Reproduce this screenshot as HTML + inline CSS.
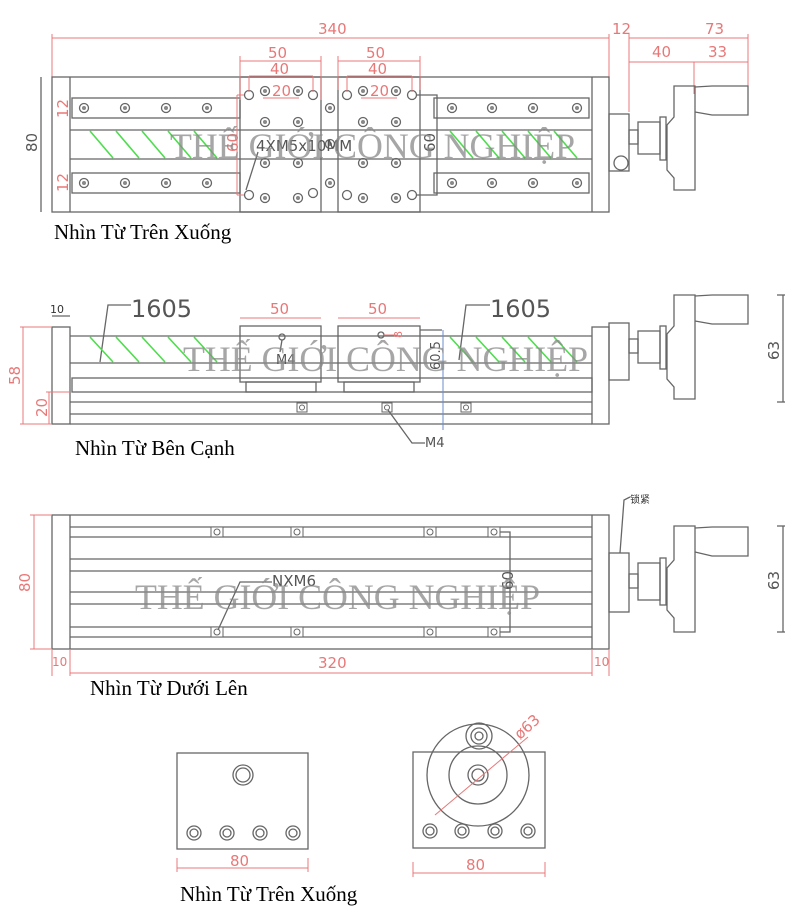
<!DOCTYPE html>
<html><head><meta charset="utf-8"><style>
html,body{margin:0;padding:0;background:#fff;}
svg{display:block;}
.g{stroke:#666;stroke-width:1.3;fill:none;}
.r{stroke:#e87878;stroke-width:1;fill:none;}
.gr{stroke:#4ddd4d;stroke-width:1.6;}
.rt{fill:#e87878;font-family:"DejaVu Sans",sans-serif;font-size:15px;}
.dt{fill:#555;font-family:"DejaVu Sans",sans-serif;font-size:15px;}
.lab{fill:#000;font-family:"Liberation Serif",serif;font-size:21px;}
.wm{fill:#888;fill-opacity:.75;font-family:"Liberation Serif",serif;font-size:36px;}
</style></head><body>
<svg width="800" height="917" viewBox="0 0 800 917" xmlns="http://www.w3.org/2000/svg">
<defs>
<g id="bolt"><circle r="4.5" class="g" fill="#eee"/><circle r="2" fill="#888"/></g>
<g id="motor">
<rect x="609" y="-28" width="20" height="57" class="g"/>
<rect x="629" y="-12" width="9" height="14" class="g"/>
<rect x="638" y="-20" width="22" height="32" class="g"/>
<rect x="660" y="-25" width="6" height="43" class="g"/>
<path d="M674,-56 L695,-56 L695,48 L674,48 L674,36 L667,28 L667,-17 L674,-25 Z" class="g"/>
<path d="M695,-55 L712,-56 L748,-56 L748,-27 L712,-27 L695,-30" class="g"/>
</g>
</defs>

<!-- ===== TOP VIEW ===== -->
<line x1="52" y1="38" x2="609" y2="38" class="r"/>
<line x1="52" y1="34" x2="52" y2="78" class="r"/>
<line x1="609" y1="34" x2="609" y2="78" class="r"/>
<line x1="629" y1="34" x2="629" y2="112" class="r"/>
<line x1="629" y1="38" x2="748" y2="38" class="r"/>
<line x1="629" y1="62" x2="748" y2="62" class="r"/>
<line x1="694" y1="62" x2="694" y2="94" class="r"/>
<line x1="748" y1="34" x2="748" y2="94" class="r"/>
<text x="318" y="34" class="rt">340</text>
<text x="612" y="34" class="rt">12</text>
<text x="705" y="34" class="rt">73</text>
<text x="652" y="57" class="rt">40</text>
<text x="708" y="57" class="rt">33</text>

<line x1="41" y1="77" x2="41" y2="212" class="g"/>
<text x="0" y="0" class="dt" transform="translate(37,152) rotate(-90)">80</text>

<rect x="52" y="77" width="557" height="135" class="g"/>
<line x1="70" y1="77" x2="70" y2="212" class="g"/>
<line x1="592" y1="77" x2="592" y2="212" class="g"/>
<rect x="72" y="98" width="168" height="20" class="g"/>
<rect x="72" y="173" width="168" height="20" class="g"/>
<rect x="434" y="98" width="155" height="20" class="g"/>
<rect x="434" y="173" width="155" height="20" class="g"/>
<line x1="70" y1="130" x2="592" y2="130" class="g"/>
<line x1="70" y1="159" x2="592" y2="159" class="g"/>
<g class="gr">
<line x1="90" y1="131" x2="113" y2="158"/><line x1="116" y1="131" x2="139" y2="158"/><line x1="142" y1="131" x2="165" y2="158"/><line x1="168" y1="131" x2="191" y2="158"/><line x1="194" y1="131" x2="217" y2="158"/>
<line x1="450" y1="131" x2="473" y2="158"/><line x1="476" y1="131" x2="499" y2="158"/><line x1="502" y1="131" x2="525" y2="158"/><line x1="528" y1="131" x2="551" y2="158"/><line x1="554" y1="131" x2="577" y2="158"/>
</g>
<g>
<use href="#bolt" x="84" y="108"/><use href="#bolt" x="125" y="108"/><use href="#bolt" x="166" y="108"/><use href="#bolt" x="207" y="108"/>
<use href="#bolt" x="84" y="183"/><use href="#bolt" x="125" y="183"/><use href="#bolt" x="166" y="183"/><use href="#bolt" x="207" y="183"/>
<use href="#bolt" x="452" y="108"/><use href="#bolt" x="492" y="108"/><use href="#bolt" x="533" y="108"/><use href="#bolt" x="577" y="108"/>
<use href="#bolt" x="452" y="183"/><use href="#bolt" x="492" y="183"/><use href="#bolt" x="533" y="183"/><use href="#bolt" x="577" y="183"/>
<use href="#bolt" x="330" y="108"/><use href="#bolt" x="330" y="183"/><use href="#bolt" x="330" y="144"/>
</g>
<rect x="240" y="77" width="81" height="135" class="g" fill="#fff"/>
<rect x="338" y="77" width="82" height="135" class="g" fill="#fff"/>
<g>
<circle cx="249" cy="95" r="4.5" class="g"/><circle cx="313" cy="95" r="4.5" class="g"/>
<use href="#bolt" x="265" y="91"/><use href="#bolt" x="298" y="91"/>
<use href="#bolt" x="265" y="122"/><use href="#bolt" x="298" y="122"/>
<use href="#bolt" x="265" y="163"/><use href="#bolt" x="298" y="163"/>
<circle cx="249" cy="195" r="4.5" class="g"/><circle cx="313" cy="193" r="4.5" class="g"/>
<use href="#bolt" x="265" y="198"/><use href="#bolt" x="298" y="198"/>
<circle cx="347" cy="95" r="4.5" class="g"/><circle cx="412" cy="95" r="4.5" class="g"/>
<use href="#bolt" x="363" y="91"/><use href="#bolt" x="396" y="91"/>
<use href="#bolt" x="363" y="122"/><use href="#bolt" x="396" y="122"/>
<use href="#bolt" x="363" y="163"/><use href="#bolt" x="396" y="163"/>
<circle cx="347" cy="195" r="4.5" class="g"/><circle cx="412" cy="195" r="4.5" class="g"/>
<use href="#bolt" x="363" y="198"/><use href="#bolt" x="396" y="198"/>
</g>
<path d="M416,95 L437,95 L437,195 L416,195" class="g"/>
<line x1="240" y1="61" x2="321" y2="61" class="r"/><line x1="240" y1="56" x2="240" y2="100" class="r"/><line x1="321" y1="56" x2="321" y2="100" class="r"/>
<line x1="249" y1="76" x2="313" y2="76" class="r"/><line x1="249" y1="76" x2="249" y2="92" class="r"/><line x1="313" y1="76" x2="313" y2="92" class="r"/>
<line x1="263" y1="98" x2="299" y2="98" class="r"/>
<text x="268" y="58" class="rt">50</text><text x="270" y="74" class="rt">40</text><text x="272" y="96" class="rt">20</text>
<line x1="338" y1="61" x2="420" y2="61" class="r"/><line x1="338" y1="56" x2="338" y2="90" class="r"/><line x1="420" y1="56" x2="420" y2="90" class="r"/>
<line x1="347" y1="76" x2="412" y2="76" class="r"/><line x1="347" y1="76" x2="347" y2="92" class="r"/><line x1="412" y1="76" x2="412" y2="92" class="r"/>
<line x1="361" y1="98" x2="397" y2="98" class="r"/>
<text x="366" y="58" class="rt">50</text><text x="368" y="74" class="rt">40</text><text x="370" y="96" class="rt">20</text>
<line x1="237" y1="95" x2="237" y2="195" class="r"/><line x1="237" y1="95" x2="244" y2="95" class="r"/><line x1="237" y1="195" x2="244" y2="195" class="r"/>
<text class="rt" transform="translate(238,152) rotate(-90)">60</text>
<text class="dt" transform="translate(435,152) rotate(-90)">60</text>
<text class="rt" transform="translate(68,118) rotate(-90)">12</text>
<text class="rt" transform="translate(68,192) rotate(-90)">12</text>
<line x1="246" y1="190" x2="258" y2="152" class="g"/>
<text x="256" y="151" class="dt">4XM5x10MM</text>
<g transform="translate(0,142)"><use href="#motor"/></g>
<circle cx="621" cy="163" r="7" class="g"/>
<text x="170" y="158" class="wm" textLength="405" lengthAdjust="spacingAndGlyphs">THẾ GIỚI CÔNG NGHIỆP</text>
<text x="54" y="239" class="lab">Nhìn Từ Trên Xuống</text>

<!-- ===== SIDE VIEW ===== -->
<text x="50" y="313" style="font-family:'DejaVu Sans',sans-serif;font-size:11px;fill:#333">10</text>
<line x1="52" y1="316" x2="70" y2="316" class="g"/>
<text x="131" y="317" class="dt" style="font-size:24px">1605</text>
<text x="490" y="317" class="dt" style="font-size:24px">1605</text>
<path d="M131,305 L108,305 L100,362" class="g"/>
<path d="M490,305 L466,305 L459,360" class="g"/>
<rect x="52" y="327" width="18" height="97" class="g"/>
<rect x="592" y="327" width="17" height="97" class="g"/>
<line x1="70" y1="336" x2="592" y2="336" class="g"/>
<line x1="70" y1="363" x2="592" y2="363" class="g"/>
<rect x="72" y="378" width="520" height="14" class="g"/>
<line x1="70" y1="402" x2="592" y2="402" class="g"/>
<line x1="70" y1="414" x2="592" y2="414" class="g"/>
<line x1="70" y1="424" x2="592" y2="424" class="g"/>
<g class="gr">
<line x1="90" y1="337" x2="113" y2="362"/><line x1="116" y1="337" x2="139" y2="362"/><line x1="142" y1="337" x2="165" y2="362"/><line x1="168" y1="337" x2="191" y2="362"/><line x1="194" y1="337" x2="217" y2="362"/>
<line x1="450" y1="337" x2="473" y2="362"/><line x1="476" y1="337" x2="499" y2="362"/><line x1="502" y1="337" x2="525" y2="362"/><line x1="528" y1="337" x2="551" y2="362"/><line x1="554" y1="337" x2="577" y2="362"/>
</g>
<rect x="240" y="326" width="81" height="56" class="g" fill="#fff"/>
<rect x="338" y="326" width="82" height="56" class="g" fill="#fff"/>
<rect x="246" y="382" width="70" height="10" class="g"/>
<rect x="344" y="382" width="70" height="10" class="g"/>
<line x1="420" y1="330" x2="442" y2="330" class="g"/>
<line x1="443" y1="330" x2="443" y2="430" stroke="#6a8ec8" stroke-width="1"/>
<circle cx="282" cy="337" r="3" class="g"/><line x1="282" y1="340" x2="280" y2="352" class="g"/>
<text x="276" y="364" class="dt" style="font-size:13px">M4</text>
<circle cx="381" cy="335" r="3" class="g"/><line x1="384" y1="335" x2="397" y2="335" class="r"/>
<text class="rt" style="font-size:11px" transform="translate(402,338) rotate(-90)">8</text>
<text class="dt" style="font-size:13px" transform="translate(440,370) rotate(-90)">60.5</text>
<g class="g" style="stroke-width:1"><rect x="297" y="403" width="10" height="9"/><circle cx="302" cy="407.5" r="2.5"/><rect x="382" y="403" width="10" height="9"/><circle cx="387" cy="407.5" r="2.5"/><rect x="461" y="403" width="10" height="9"/><circle cx="466" cy="407.5" r="2.5"/></g>
<path d="M388,410 L412,443 L425,443" class="g"/>
<text x="425" y="447" class="dt" style="font-size:13px">M4</text>
<line x1="240" y1="318" x2="321" y2="318" class="r"/><line x1="338" y1="318" x2="420" y2="318" class="r"/>
<text x="270" y="314" class="rt">50</text><text x="368" y="314" class="rt">50</text>
<line x1="23" y1="327" x2="23" y2="424" class="r"/><line x1="20" y1="327" x2="52" y2="327" class="r"/><line x1="20" y1="424" x2="52" y2="424" class="r"/>
<text class="rt" transform="translate(20,385) rotate(-90)">58</text>
<line x1="49" y1="392" x2="49" y2="424" class="r"/><line x1="46" y1="392" x2="70" y2="392" class="r"/>
<text class="rt" transform="translate(47,417) rotate(-90)">20</text>
<g transform="translate(0,351)"><use href="#motor"/></g>
<line x1="783" y1="295" x2="783" y2="402" class="g"/><line x1="777" y1="295" x2="785" y2="295" class="g"/><line x1="777" y1="402" x2="785" y2="402" class="g"/>
<text class="dt" transform="translate(779,360) rotate(-90)">63</text>
<text x="183" y="371" class="wm" textLength="405" lengthAdjust="spacingAndGlyphs">THẾ GIỚI CÔNG NGHIỆP</text>
<text x="75" y="455" class="lab">Nhìn Từ Bên Cạnh</text>

<!-- ===== BOTTOM VIEW ===== -->
<rect x="52" y="515" width="557" height="134" class="g"/>
<line x1="70" y1="515" x2="70" y2="649" class="g"/>
<line x1="592" y1="515" x2="592" y2="649" class="g"/>
<g class="g">
<line x1="70" y1="527" x2="592" y2="527"/><line x1="70" y1="537" x2="592" y2="537"/>
<line x1="70" y1="559" x2="592" y2="559"/><line x1="70" y1="571" x2="592" y2="571"/>
<line x1="70" y1="592" x2="592" y2="592"/><line x1="70" y1="604" x2="592" y2="604"/>
<line x1="70" y1="627" x2="592" y2="627"/><line x1="70" y1="637" x2="592" y2="637"/>
</g>
<g class="g" style="stroke-width:1">
<rect x="211" y="527" width="12" height="10" fill="#fff"/><circle cx="217" cy="532" r="3"/>
<rect x="291" y="527" width="12" height="10" fill="#fff"/><circle cx="297" cy="532" r="3"/>
<rect x="424" y="527" width="12" height="10" fill="#fff"/><circle cx="430" cy="532" r="3"/>
<rect x="488" y="527" width="12" height="10" fill="#fff"/><circle cx="494" cy="532" r="3"/>
<rect x="211" y="627" width="12" height="10" fill="#fff"/><circle cx="217" cy="632" r="3"/>
<rect x="291" y="627" width="12" height="10" fill="#fff"/><circle cx="297" cy="632" r="3"/>
<rect x="424" y="627" width="12" height="10" fill="#fff"/><circle cx="430" cy="632" r="3"/>
<rect x="488" y="627" width="12" height="10" fill="#fff"/><circle cx="494" cy="632" r="3"/>
</g>
<path d="M500,532 L510,532 L510,632 L500,632" class="g"/>
<text class="dt" transform="translate(513,590) rotate(-90)">60</text>
<path d="M218,630 L240,582 L272,582" class="g"/>
<text x="272" y="586" class="dt">NXM6</text>
<rect x="609" y="553" width="20" height="59" class="g"/>
<rect x="629" y="574" width="9" height="14" class="g"/>
<rect x="638" y="563" width="22" height="37" class="g"/>
<rect x="660" y="558" width="6" height="47" class="g"/>
<path d="M674,526 L695,526 L695,632 L674,632 L674,618 L667,610 L667,568 L674,560 Z" class="g"/>
<path d="M695,528 L712,527 L748,527 L748,556 L712,556 L695,552" class="g"/>
<path d="M620,553 L624,500 L630,497" class="g"/>
<text x="630" y="503" style="font-family:'Noto Sans CJK SC',sans-serif;font-size:10px;fill:#333">锁紧</text>
<line x1="783" y1="526" x2="783" y2="632" class="g"/><line x1="777" y1="526" x2="785" y2="526" class="g"/><line x1="777" y1="632" x2="785" y2="632" class="g"/>
<text class="dt" transform="translate(779,590) rotate(-90)">63</text>
<line x1="34" y1="515" x2="34" y2="649" class="r"/><line x1="30" y1="515" x2="52" y2="515" class="r"/><line x1="30" y1="649" x2="52" y2="649" class="r"/>
<text class="rt" transform="translate(30,592) rotate(-90)">80</text>
<line x1="52" y1="650" x2="52" y2="676" class="r"/><line x1="70" y1="650" x2="70" y2="676" class="r"/>
<line x1="592" y1="650" x2="592" y2="676" class="r"/><line x1="609" y1="650" x2="609" y2="676" class="r"/>
<line x1="70" y1="673" x2="592" y2="673" class="r"/>
<text x="52" y="666" class="rt" style="font-size:12px">10</text>
<text x="318" y="668" class="rt">320</text>
<text x="594" y="666" class="rt" style="font-size:12px">10</text>
<text x="135" y="609" class="wm" textLength="405" lengthAdjust="spacingAndGlyphs">THẾ GIỚI CÔNG NGHIỆP</text>
<text x="90" y="695" class="lab">Nhìn Từ Dưới Lên</text>

<!-- ===== END VIEWS ===== -->
<rect x="177" y="753" width="131" height="96" class="g"/>
<circle cx="243" cy="775" r="10" class="g"/><circle cx="243" cy="775" r="7" class="g"/>
<g class="g"><circle cx="194" cy="833" r="7"/><circle cx="194" cy="833" r="4"/><circle cx="227" cy="833" r="7"/><circle cx="227" cy="833" r="4"/><circle cx="260" cy="833" r="7"/><circle cx="260" cy="833" r="4"/><circle cx="293" cy="833" r="7"/><circle cx="293" cy="833" r="4"/></g>
<line x1="177" y1="868" x2="308" y2="868" class="r"/><line x1="177" y1="858" x2="177" y2="872" class="r"/><line x1="308" y1="858" x2="308" y2="872" class="r"/>
<text x="230" y="866" class="rt">80</text>

<rect x="413" y="752" width="132" height="96" class="g"/>
<circle cx="478" cy="775" r="51" class="g" fill="#fff"/>
<circle cx="478" cy="775" r="29" class="g"/>
<circle cx="478" cy="775" r="10" class="g"/><circle cx="478" cy="775" r="6" class="g"/>
<circle cx="479" cy="736" r="13" class="g" fill="#fff"/><circle cx="479" cy="736" r="8" class="g"/><circle cx="479" cy="736" r="4" class="g"/>
<g class="g"><circle cx="430" cy="831" r="7"/><circle cx="430" cy="831" r="4"/><circle cx="462" cy="831" r="7"/><circle cx="462" cy="831" r="4"/><circle cx="495" cy="831" r="7"/><circle cx="495" cy="831" r="4"/><circle cx="528" cy="831" r="7"/><circle cx="528" cy="831" r="4"/></g>
<line x1="435" y1="815" x2="528" y2="737" class="r"/>
<text class="rt" transform="translate(520,740) rotate(-42)">ø63</text>
<line x1="413" y1="873" x2="545" y2="873" class="r"/><line x1="413" y1="862" x2="413" y2="877" class="r"/><line x1="545" y1="862" x2="545" y2="877" class="r"/>
<text x="466" y="870" class="rt">80</text>
<text x="180" y="901" class="lab">Nhìn Từ Trên Xuống</text>
</svg>
</body></html>
